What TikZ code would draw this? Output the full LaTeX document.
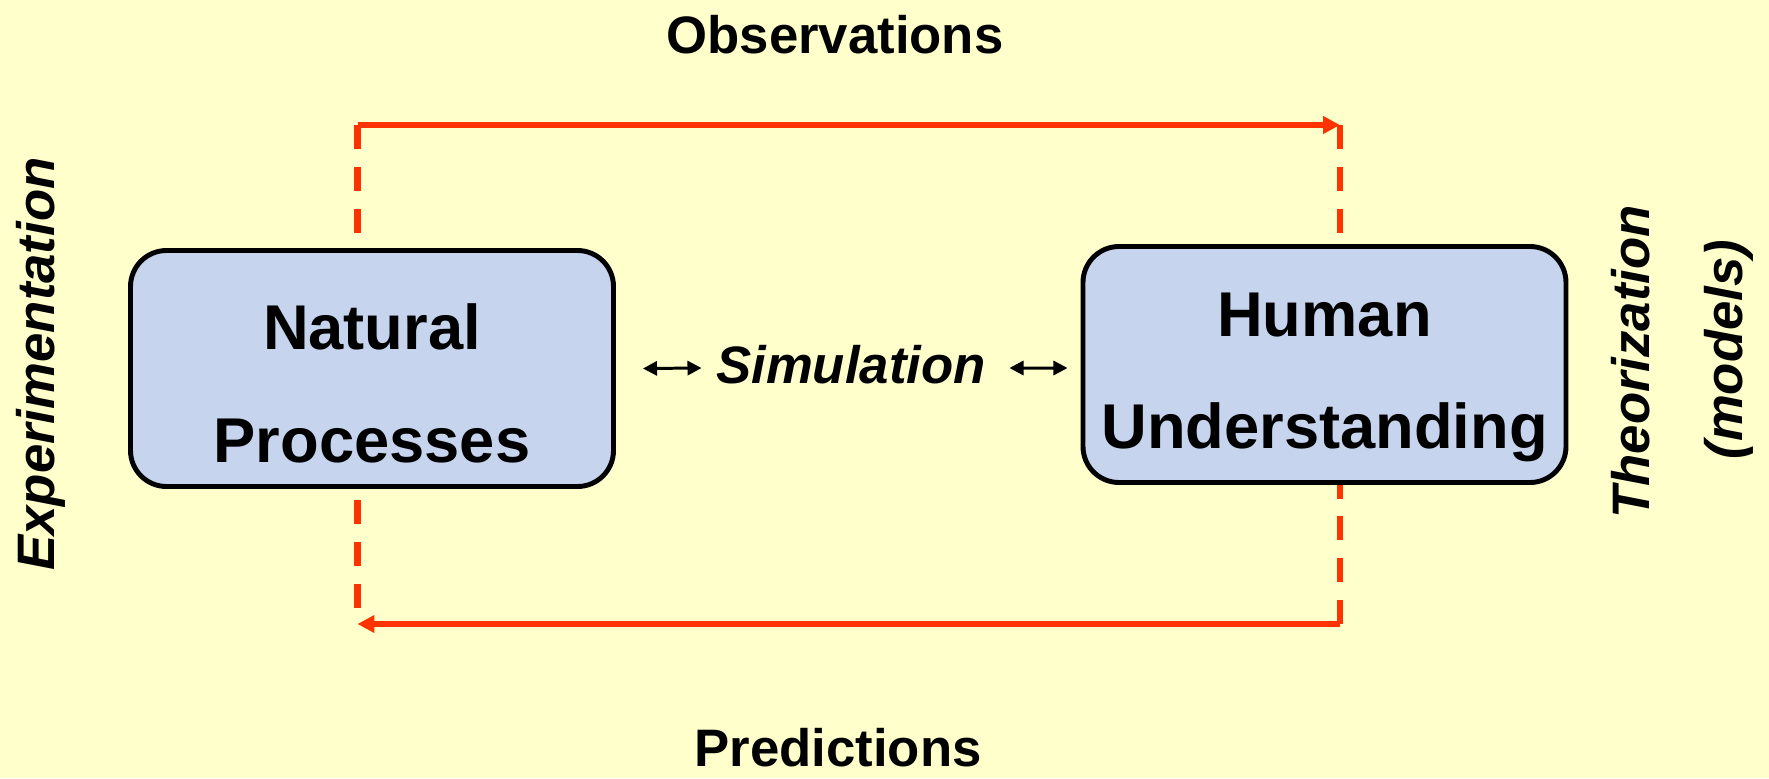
\documentclass[tikz,border=0pt]{standalone}
\usepackage{fontspec}
\setmainfont{Liberation Sans}
\usepackage{xcolor}
\usepackage{tikz}
\usetikzlibrary{arrows.meta,positioning}

\definecolor{paper}{RGB}{255,255,204}
\definecolor{loopred}{RGB}{255,51,0}
\definecolor{gridblue}{RGB}{198,212,238}

\begin{document}
\begin{tikzpicture}[>=Stealth,
  procbox/.style={draw,line width=1.4pt,rounded corners=3.6mm,fill=gridblue,minimum width=4.83cm,minimum height=2.36cm},
  boxtext/.style={align=center,inner sep=0pt,font=\fontsize{18}{32}\selectfont\bfseries},
  bigword/.style={font=\fontsize{15}{18}\selectfont\bfseries},
  slantword/.style={font=\fontsize{15}{26.5}\selectfont\bfseries\itshape},
  loopdash/.style={loopred,line width=1.8pt,dash pattern=on 6.8pt off 5.1pt},
  loopline/.style={loopred,line width=1.8pt,-{Triangle[length=4.8pt,width=4.8pt]}},
  simarrow/.style={line width=0.85pt,{Triangle[length=4pt,width=4pt]}-{Triangle[length=4pt,width=4pt]}}]
\fill[paper](0,0)rectangle(17.69,7.78);
\useasboundingbox(0,0)rectangle(17.69,7.78);

% the two boxes
\node[procbox](natural)at(3.72,4.095){};
\node[procbox](human)at(13.245,4.135){};
\node[boxtext](naturaltext)at([yshift=-1.5mm]natural.center){Natural\\Processes};
\node[boxtext](humantext)at([yshift=-1.3mm]human.center){Human\\Understanding};

\node[slantword,inner sep=0pt,text depth=0.8mm](sim)at(8.51,4.10){Simulation};
\draw[simarrow]([xshift=2.7mm]natural.east)--([xshift=-1.4mm]sim.west);
\draw[simarrow]([xshift=2.3mm]sim.east)--([xshift=-1.3mm,yshift=-0.35mm]human.west);

\node[bigword,anchor=base](obs)at(8.35,7.25){Observations};
\node[bigword,anchor=base](pred)at(8.38,0.12){Predictions};
\node[slantword,rotate=90](expt)at(0.41,4.14){Experimentation};
\node[slantword,rotate=90,align=center](theo)at(16.82,4.16){Theorization\\\hspace*{7pt}(models)};

% the loop round both boxes
\coordinate(obsL)at(3.575,6.53);
\coordinate(obsR)at(13.40,6.53);
\coordinate(predR)at(13.40,1.54);
\coordinate(predL)at(3.575,1.54);
\draw[loopdash](obsL)--(natural.north-|obsL);
\draw[loopline](obsL)--(obsR);
\draw[loopdash](obsR)--(human.north-|obsR);
\draw[loopdash](predR)--(human.south-|predR);
\draw[loopline](predR)--(predL);
\draw[loopdash]([yshift=-1.1mm]natural.south-|predL)--(predL);
%\draw[loopdash](natural.south-|predL)--(predL);
\end{tikzpicture}
\end{document}
